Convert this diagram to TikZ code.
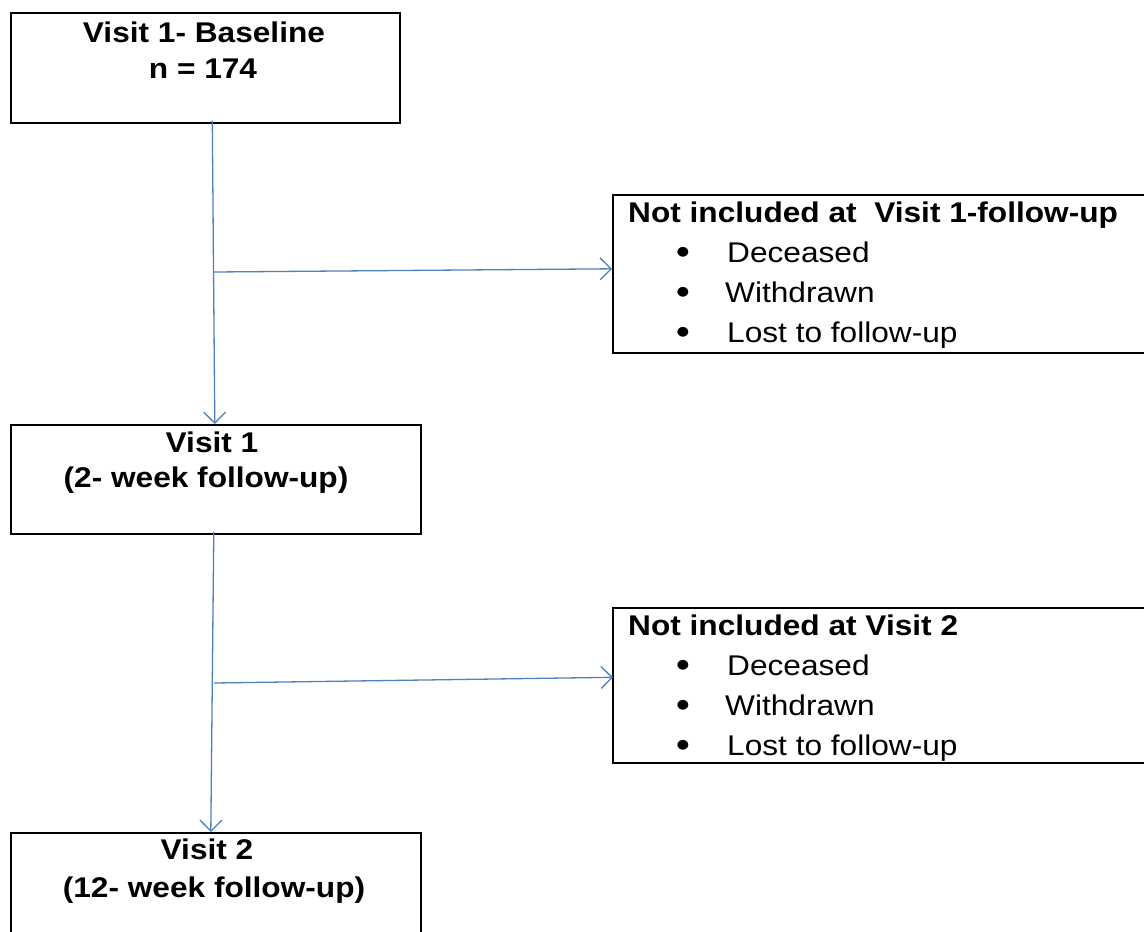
\documentclass[tikz,border=0pt]{standalone}
\usepackage{fontspec}
\setmainfont{Liberation Sans}[FakeStretch=1.11]
\usetikzlibrary{arrows.meta}
\definecolor{arrowblue}{RGB}{79,129,189}
\begin{document}
\begin{tikzpicture}[x=1pt,y=-1pt,
  box/.style={draw=black,line width=1.6pt,rectangle,inner sep=0pt,anchor=north west},
  title/.style={font=\fontsize{28.5}{38}\selectfont\bfseries,inner sep=0pt,anchor=base},
  head/.style={font=\fontsize{28.5}{38}\selectfont\bfseries,inner sep=0pt,anchor=base west},
  item/.style={font=\fontsize{28.5}{38}\selectfont,anchor=base west,inner sep=0pt},
  bul/.style={font=\fontsize{34}{38}\selectfont\bfseries,inner sep=0pt,anchor=base},
  arr/.style={draw=arrowblue,line width=1.3pt,-{Straight Barb[length=11pt,width=22pt,line width=1.3pt]}}]
\useasboundingbox (0,0) rectangle (1144,932);
\fill[white] (0,0) rectangle (1144,932);
% boxes
\node[box,minimum width=389pt,minimum height=110pt] (b0) at (10,12) {};
\node[box,minimum width=410pt,minimum height=109pt] (b1) at (10,424) {};
\node[box,minimum width=410pt,minimum height=110pt] (b2) at (10,832) {};
\node[box,minimum width=545pt,minimum height=158pt] (n1) at (612,194) {};
\node[box,minimum width=545pt,minimum height=155pt] (n2) at (612,607) {};
% texts
\node[title] (t0a) at (204,42) {Visit 1- Baseline};
\node[title] (t0b) at (203,78) {n = 174};
\node[title] (t1a) at (212,452) {Visit 1};
\node[title] (t1b) at (206,487) {(2- week follow-up)};
\node[title] (t2a) at (207,859) {Visit 2};
\node[title] (t2b) at (214,897) {(12- week follow-up)};
\node[head] (h1) at (628,222) {Not included at\ \ Visit 1-follow-up};
\node[bul] (d1) at (683,263) {\textbullet};
\node[item] (i1a) at (727,262) {Deceased};
\node[bul] (d2) at (683,303) {\textbullet};
\node[item] (i1b) at (725,302) {Withdrawn};
\node[bul] (d3) at (683,343) {\textbullet};
\node[item] (i1c) at (727,342) {Lost to follow-up};
\node[head] (h2) at (628,635) {Not included at Visit 2};
\node[bul] (e1) at (683,676) {\textbullet};
\node[item] (i2a) at (727,675) {Deceased};
\node[bul] (e2) at (683,716) {\textbullet};
\node[item] (i2b) at (725,715) {Withdrawn};
\node[bul] (e3) at (683,756) {\textbullet};
\node[item] (i2c) at (727,755) {Lost to follow-up};
% connectors
\coordinate (j1) at (214,272);
\coordinate (j2) at (214,683);
\draw[arr] ([xshift=7pt,yshift=3pt]b0.south) -- ([xshift=-1pt]b1.north);
\draw[arr] (j1) -- ([yshift=5pt]n1.west);
\draw[arr] ([xshift=-2pt,yshift=3pt]b1.south) -- ([xshift=-5pt]b2.north);
\draw[arr] (j2) -- ([yshift=8pt,xshift=1pt]n2.west);
\end{tikzpicture}
\end{document}
